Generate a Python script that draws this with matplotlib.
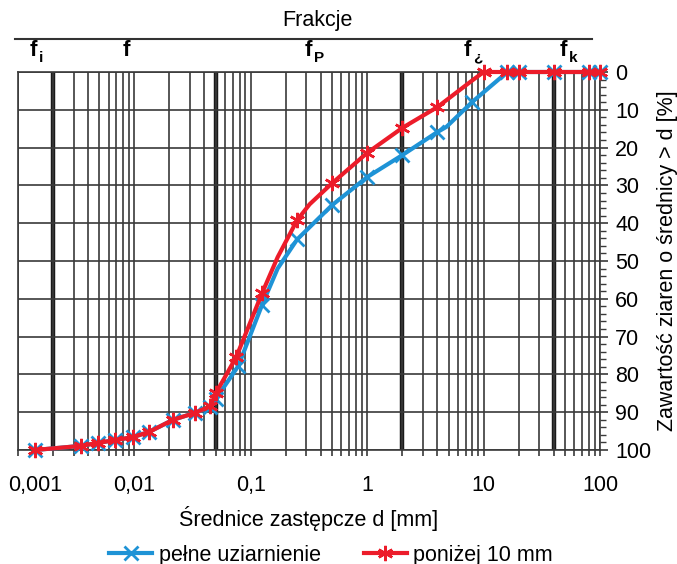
import matplotlib
matplotlib.use("Agg")
import matplotlib.pyplot as plt
import matplotlib.transforms as mtransforms
from matplotlib.lines import Line2D
import numpy as np

plt.rcParams['font.family'] = ['Liberation Sans', 'DejaVu Sans']

# pełne uziarnienie (line vertices, marker flags)
d_full = [0.0014, 0.0035, 0.0049, 0.0068, 0.0097, 0.0134, 0.0215, 0.033, 0.045, 0.05,
          0.078, 0.125, 0.17, 0.25, 0.5, 1.0, 2.0, 4.0, 4.8, 8.0, 16, 20, 40, 80, 100]
p_full = [100, 98.9, 98.1, 97.4, 96.6, 95.2, 92.0, 90.2, 88.6, 86.5,
          77.8, 61.6, 52.0, 44.3, 35.2, 27.8, 22.0, 15.9, 14.5, 7.9, 0, 0, 0, 0, 0]
m_full = [1, 1, 1, 1, 1, 1, 1, 1, 1, 1,
          1, 1, 0, 1, 1, 1, 1, 1, 0, 1, 1, 1, 1, 1, 1]

# poniżej 10 mm
d_10 = [0.0014, 0.0035, 0.0049, 0.0068, 0.0097, 0.0134, 0.0215, 0.033, 0.045, 0.05,
        0.075, 0.125, 0.17, 0.25, 0.32, 0.5, 1.0, 2.0, 4.0, 7.7, 10, 16, 20, 40, 80, 100]
p_10 = [100, 98.9, 98.1, 97.4, 96.6, 95.2, 92.0, 90.2, 88.4, 85.0,
        75.4, 58.5, 49.0, 39.2, 35.0, 29.4, 21.4, 14.8, 9.3, 2.6, 0, 0, 0, 0, 0, 0]
m_10 = [1, 1, 1, 1, 1, 1, 1, 1, 1, 1,
        1, 1, 0, 1, 0, 1, 1, 1, 1, 0, 1, 1, 1, 1, 1, 1]

xticks = [0.001, 0.01, 0.1, 1, 10, 100]
xticklabels = ["0,001", "0,01", "0,1", "1", "10", "100"]
bounds = [0.002, 0.05, 2, 40]
fractions = [("f", "i", 0.00135), ("f", "", 0.0086), ("f", "P", 0.31),
             ("f", "¿", 7.3), ("f", "k", 48)]

blue = "#1e93d6"
red = "#ec1c2a"
fs = 15.5

fig = plt.figure(figsize=(6.77, 5.64), dpi=100)
ax = fig.add_axes([18/677, 1-450/564, 582/677, 378/564])
ax.set_xscale("log")
ax.set_xlim(0.001, 100)
ax.set_ylim(100, 0)

ax.grid(True, which="both", axis="x", color="#3a3a3a", lw=1.2)
ax.grid(True, which="major", axis="y", color="#3a3a3a", lw=1.2)
for b in bounds:
    ax.axvline(b, color="#1a1a1a", lw=3.2, zorder=1.5)

ax.set_xticks(xticks)
ax.set_xticklabels(xticklabels, fontsize=fs)
ax.tick_params(axis="x", which="both", direction="out", length=4, width=1.2,
               color="#3a3a3a", pad=14)
ax.xaxis.set_minor_formatter(plt.NullFormatter())
first = ax.get_xticklabels()[0]
first.set_transform(first.get_transform() +
                    mtransforms.ScaledTranslation(17/100, 0, fig.dpi_scale_trans))

ax.yaxis.tick_right()
ax.set_yticks(np.arange(0, 101, 10))
ax.set_yticks(np.arange(0, 101, 2), minor=True)
ax.tick_params(axis="y", which="major", direction="out", length=6, width=1.2,
               color="#3a3a3a", labelsize=fs, pad=5)
ax.tick_params(axis="y", which="minor", direction="out", length=4, width=1.0,
               color="#3a3a3a")
ax.yaxis.set_label_position("right")
ax.set_ylabel("Zawartość ziaren o średnicy > d [%]", fontsize=fs, labelpad=4)
ax.set_xlabel("Średnice zastępcze d [mm]", fontsize=fs, labelpad=7)

for s in ax.spines.values():
    s.set_color("#3a3a3a")
    s.set_linewidth(1.2)

ax.plot(d_full, p_full, color=blue, lw=3, marker="x", ms=10, mew=2,
        markevery=[bool(m) for m in m_full], clip_on=False, zorder=3,
        label="pełne uziarnienie")
ax.plot(d_10, p_10, color=red, lw=3, marker=(6, 2, 0), ms=11, mew=1.8,
        markevery=[bool(m) for m in m_10], clip_on=False, zorder=4,
        label="poniżej 10 mm")

# fractions header
trans = mtransforms.blended_transform_factory(ax.transData, ax.transAxes)
for main, sub, xpos in fractions:
    ax.text(xpos, 1.03, main, transform=trans, fontsize=16, fontweight="bold",
            ha="center", va="bottom")
    if sub:
        ax.annotate(sub, xy=(xpos, 1.03), xycoords=trans, xytext=(4, -3),
                    textcoords="offset points", fontsize=11, fontweight="bold",
                    ha="left", va="bottom")
ax.add_line(Line2D([-0.005, 0.986], [1.087, 1.087], transform=ax.transAxes,
                   color="#333333", lw=1.5, clip_on=False))
ax.text(0.515, 1.135, "Frakcje", transform=ax.transAxes, fontsize=fs,
        ha="center", va="center")

fig.legend(loc="center", bbox_to_anchor=(0.489, 1-555/564), ncol=2,
           frameon=False, fontsize=fs, columnspacing=2.0, handlelength=2.0,
           handletextpad=0.3, borderaxespad=0)

fig.savefig("out.png", dpi=100)
